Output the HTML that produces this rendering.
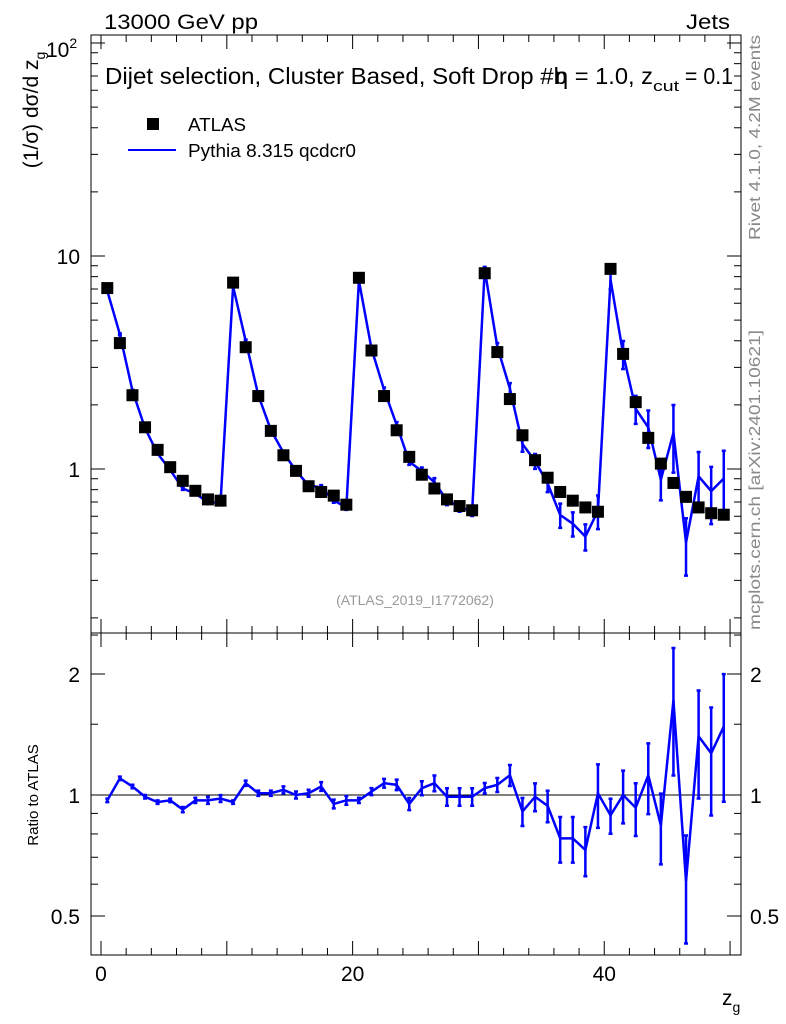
<!DOCTYPE html>
<html><head><meta charset="utf-8"><style>
body{margin:0;background:#fff}
svg{display:block;font-family:"Liberation Sans",sans-serif}
</style></head><body>
<svg id="c" width="786" height="1024" xmlns="http://www.w3.org/2000/svg">
<rect width="786" height="1024" fill="#fff"/>
<g id="main"></g>
<g id="ratio"></g>
<text x="104" y="29" font-size="21" textLength="154" lengthAdjust="spacingAndGlyphs">13000 GeV pp</text>
<text x="686" y="29" font-size="21" textLength="44" lengthAdjust="spacingAndGlyphs">Jets</text>
<text x="105" y="84" font-size="23" textLength="462" lengthAdjust="spacingAndGlyphs">Dijet selection, Cluster Based, Soft Drop #b</text>
<text x="555" y="84" font-size="23"><tspan textLength="98" lengthAdjust="spacingAndGlyphs">η = 1.0, z</tspan><tspan font-size="15" dy="7" textLength="26" lengthAdjust="spacingAndGlyphs">cut</tspan><tspan dy="-7" textLength="54" lengthAdjust="spacingAndGlyphs"> = 0.1</tspan></text>
<rect x="147" y="118" width="12" height="12" fill="#000"/>
<text x="188" y="131" font-size="18" textLength="58" lengthAdjust="spacingAndGlyphs">ATLAS</text>
<line x1="128" y1="150" x2="176" y2="150" stroke="#0000ff" stroke-width="2"/>
<text x="188" y="157" font-size="18" textLength="168" lengthAdjust="spacingAndGlyphs">Pythia 8.315 qcdcr0</text>
<text transform="translate(38,110) rotate(-90)" font-size="21" text-anchor="middle">(1/σ) dσ/d z<tspan font-size="14" dy="7">g</tspan></text>
<text transform="translate(760,240) rotate(-90)" font-size="16" fill="#888" textLength="205" lengthAdjust="spacingAndGlyphs">Rivet 4.1.0,  4.2M events</text>
<text transform="translate(760,630) rotate(-90)" font-size="16" fill="#888" textLength="300" lengthAdjust="spacingAndGlyphs">mcplots.cern.ch [arXiv:2401.10621]</text>
<text x="415" y="605" font-size="14" fill="#999" text-anchor="middle">(ATLAS_2019_I1772062)</text>
<text transform="translate(38,795) rotate(-90)" font-size="15" text-anchor="middle">Ratio to ATLAS</text>
<text x="722" y="1005" font-size="21">z<tspan font-size="14" dy="7">g</tspan></text>
</svg>
<script>
const binCenters=[0.5,1.5,2.5,3.5,4.5,5.5,6.5,7.5,8.5,9.5,10.5,11.5,12.5,13.5,14.5,15.5,16.5,17.5,18.5,19.5,20.5,21.5,22.5,23.5,24.5,25.5,26.5,27.5,28.5,29.5,30.5,31.5,32.5,33.5,34.5,35.5,36.5,37.5,38.5,39.5,40.5,41.5,42.5,43.5,44.5,45.5,46.5,47.5,48.5,49.5];
const atlasValues=[7.07,3.9,2.22,1.57,1.23,1.02,0.88,0.79,0.72,0.71,7.5,3.73,2.2,1.51,1.16,0.98,0.83,0.78,0.75,0.68,7.9,3.6,2.2,1.52,1.14,0.94,0.81,0.72,0.67,0.64,8.3,3.54,2.13,1.44,1.10,0.91,0.78,0.71,0.66,0.63,8.7,3.47,2.06,1.40,1.06,0.86,0.74,0.66,0.62,0.61];
const ratioValues=[0.97,1.10,1.05,0.99,0.96,0.97,0.92,0.97,0.97,0.98,0.96,1.07,1.01,1.01,1.03,1.0,1.01,1.05,0.95,0.97,0.97,1.02,1.07,1.06,0.95,1.04,1.07,0.99,0.99,0.99,1.04,1.06,1.12,0.91,0.99,0.94,0.78,0.78,0.73,1.01,0.89,1.0,0.93,1.12,0.84,1.72,0.61,1.40,1.27,1.48];
const ratioErrors=[0.01,0.01,0.01,0.01,0.01,0.01,0.015,0.015,0.02,0.02,0.01,0.015,0.015,0.015,0.02,0.02,0.02,0.025,0.025,0.025,0.015,0.02,0.025,0.03,0.035,0.04,0.045,0.05,0.05,0.05,0.03,0.04,0.06,0.08,0.08,0.09,0.13,0.13,0.14,0.18,0.1,0.15,0.15,0.2,0.2,0.35,0.3,0.3,0.3,0.35];
const xTicks=[0,20,40];
const yTickLabels=["1","10"];
const ratioTickValues=[0.5,1,2];

const NS="http://www.w3.org/2000/svg";
const L=91,R=741,T=35,B=633,RT=633,RB=955;
const xmin=-0.795,xmax=50.87;
const X=v=>L+(v-xmin)/(xmax-xmin)*(R-L);
const Y=v=>469-213*Math.log10(v);
const RY=v=>795-121*Math.log2(v);
function mk(p,tag,a){const e=document.createElementNS(NS,tag);for(const k in a)e.setAttribute(k,a[k]);p.appendChild(e);return e;}
const main=document.getElementById('main'),ratio=document.getElementById('ratio');

function frame(g,top,bot,name){
 const f=mk(g,'rect',{x:L,y:top,width:R-L,height:bot-top,fill:'none',stroke:'#000','stroke-width':1});
 
 
 for(let v=0;v<=50;v+=2){const x=X(v),len=v%10===0?14:7;
  mk(g,'line',{x1:x,y1:bot,x2:x,y2:bot-len,stroke:'#000'});
  mk(g,'line',{x1:x,y1:top,x2:x,y2:top+len,stroke:'#000'});}
}
frame(main,T,B,'main-frame');
frame(ratio,RT,RB,'ratio-frame');

for(let d=-1;d<=2;d++)for(let m=1;m<10;m++){const v=m*Math.pow(10,d),y=Y(v);if(y<T||y>B)continue;const len=m===1?14:7;
 mk(main,'line',{x1:L,y1:y,x2:L+len,y2:y,stroke:'#000'});mk(main,'line',{x1:R,y1:y,x2:R-len,y2:y,stroke:'#000'});}
yTickLabels.forEach((s,i)=>{const t=mk(main,'text',{x:80,y:Y(Math.pow(10,i))+8,'font-size':21,'text-anchor':'end'});t.textContent=s;
 
 });
{const t=mk(main,'text',{x:46,y:Y(100)+14,'font-size':21});t.innerHTML='10<tspan font-size="14" dy="-9">2</tspan>';
 
 }

[0.4,0.5,0.6,0.7,0.8,0.9,1,1.5,2,2.5].forEach(v=>{const y=RY(v);if(y<RT||y>RB)return;const len=ratioTickValues.includes(v)?14:7;
 mk(ratio,'line',{x1:L,y1:y,x2:L+len,y2:y,stroke:'#000'});mk(ratio,'line',{x1:R,y1:y,x2:R-len,y2:y,stroke:'#000'});});
ratioTickValues.forEach(v=>{const y=RY(v)+8;
 const a=mk(ratio,'text',{x:80,y:y,'font-size':21,'text-anchor':'end'});a.textContent=String(v);
 
 
 const b=mk(ratio,'text',{x:750,y:y,'font-size':21});b.textContent=String(v);
 
 });
xTicks.forEach(v=>{const t=mk(ratio,'text',{x:X(v),y:981,'font-size':21,'text-anchor':'middle'});t.textContent=String(v);
 
 });
const ref=mk(ratio,'line',{x1:L,y1:RY(1),x2:R,y2:RY(1),stroke:'#000'});



function ebar(g,x,y1,y2,name){
 const e=mk(g,'path',{d:`M${x},${y1}V${y2}M${x-2},${y1}h4M${x-2},${y2}h4`,stroke:'#0000ff','stroke-width':2.5,fill:'none'});
 
 
}
const mc=atlasValues.map((v,i)=>v*ratioValues[i]);
const cl=v=>Math.min(Math.max(v,T),B), rcl=v=>Math.min(Math.max(v,RT),RB);
binCenters.forEach((c,i)=>{const e=mc[i]*ratioErrors[i];
 ebar(main,X(c),cl(Y(mc[i]+e)),cl(Y(Math.max(mc[i]-e,1e-3))),'mc-error-bar');});
const pl=mk(main,'polyline',{points:binCenters.map((c,i)=>X(c)+','+Y(mc[i])).join(' '),fill:'none',stroke:'#0000ff','stroke-width':2.5});


binCenters.forEach((c,i)=>{const r=mk(main,'rect',{x:X(c)-6,y:Y(atlasValues[i])-6,width:12,height:12,fill:'#000'});
 
 });

binCenters.forEach((c,i)=>{const e=ratioValues[i]*ratioErrors[i];
 ebar(ratio,X(c),rcl(RY(ratioValues[i]+e)),rcl(RY(Math.max(ratioValues[i]-e,0.01))),'ratio-error-bar');});
const rl=mk(ratio,'polyline',{points:binCenters.map((c,i)=>X(c)+','+RY(ratioValues[i])).join(' '),fill:'none',stroke:'#0000ff','stroke-width':2.5});


</script>
</body></html>
